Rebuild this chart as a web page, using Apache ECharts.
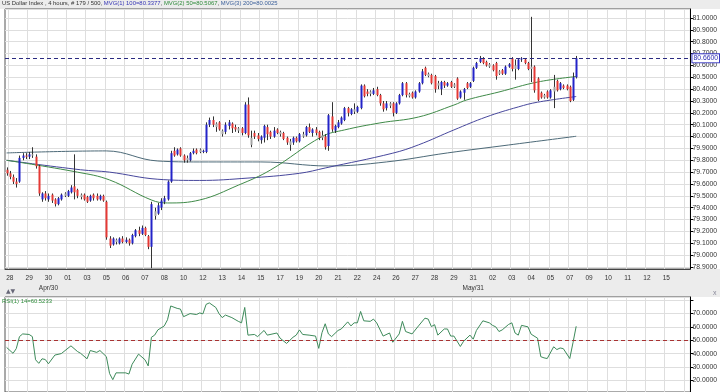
<!DOCTYPE html>
<html><head><meta charset="utf-8">
<script src="https://cdn.jsdelivr.net/npm/echarts@6/dist/echarts.min.js"></script>
<style>html,body{margin:0;padding:0;background:#fff}#c{width:720px;height:392px}</style>
</head><body><div id="c"></div>
<script>
// ---- DATA ----
const tickLabels = ['28','29','30\nApr/30','01','03','05','06','07','08','10','12','13','14','15','17','19','20','21','22','24','26','27','28','29','31\nMay/31','02','03','04','05','07','09','10','11','12','15'];
const totalSlots = 213;
// candles: [open, close, low, high]
const candles = [
[79.72,79.69,79.67,79.74],[79.69,79.66,79.64,79.71],[79.66,79.62,79.60,79.68],[79.62,79.60,79.57,79.65],
[79.62,79.82,79.61,79.84],[79.82,79.84,79.80,79.86],[79.84,79.83,79.81,79.86],[79.83,79.85,79.81,79.87],
[79.85,79.84,79.82,79.91],[79.83,79.75,79.73,79.85],[79.75,79.52,79.50,79.76],[79.47,79.52,79.45,79.53],
[79.52,79.48,79.46,79.54],[79.47,79.50,79.45,79.52],[79.51,79.46,79.44,79.52],[79.47,79.43,79.41,79.48],
[79.43,79.48,79.42,79.49],[79.47,79.51,79.46,79.52],[79.52,79.50,79.49,79.53],[79.50,79.54,79.49,79.55],
[79.53,79.57,79.52,79.59],[79.58,79.53,79.47,79.85],[79.55,79.50,79.48,79.56],[79.51,79.49,79.47,79.52],
[79.51,79.47,79.46,79.52],[79.49,79.45,79.44,79.50],[79.46,79.50,79.45,79.51],[79.51,79.48,79.46,79.52],
[79.50,79.47,79.46,79.52],[79.47,79.50,79.46,79.51],[79.50,79.46,79.45,79.51],[79.45,79.15,79.13,79.46],
[79.14,79.08,79.06,79.16],[79.09,79.14,79.08,79.15],[79.13,79.11,79.09,79.14],[79.10,79.14,79.09,79.15],
[79.14,79.11,79.10,79.16],[79.11,79.13,79.10,79.15],[79.13,79.10,79.08,79.14],[79.10,79.17,79.09,79.18],
[79.16,79.21,79.15,79.22],[79.21,79.18,79.16,79.24],[79.18,79.23,79.17,79.25],[79.23,79.17,79.16,79.24],
[79.16,79.07,79.05,79.17],[79.07,79.43,78.89,79.45],[79.37,79.33,79.30,79.40],[79.35,79.42,79.34,79.44],
[79.40,79.46,79.38,79.48],[79.45,79.48,79.43,79.50],[79.47,79.62,79.46,79.63],[79.62,79.86,79.61,79.88],
[79.88,79.84,79.83,79.91],[79.85,79.89,79.84,79.90],[79.90,79.84,79.83,79.91],[79.84,79.80,79.78,79.85],
[79.82,79.80,79.78,79.84],[79.80,79.86,79.79,79.87],[79.86,79.88,79.85,79.90],[79.89,79.86,79.85,79.90],
[79.89,79.87,79.86,79.90],[79.87,79.88,79.86,79.89],[79.87,80.10,79.86,80.12],[80.10,80.14,80.08,80.16],
[80.14,80.10,80.08,80.17],[80.11,80.08,80.04,80.12],[80.12,80.06,80.05,80.13],[80.05,80.02,80.00,80.06],
[80.04,80.10,80.02,80.12],[80.09,80.12,80.06,80.14],[80.11,80.07,80.03,80.12],[80.08,80.06,80.04,80.10],
[80.07,80.05,80.03,80.08],[80.07,80.03,80.01,80.08],[80.03,80.27,80.02,80.29],[80.27,80.01,79.99,80.33],
[79.99,79.93,79.91,80.05],[80.03,80.00,79.98,80.05],[80.01,79.98,79.96,80.03],[79.97,80.00,79.94,80.01],
[79.99,80.09,79.95,80.10],[80.08,80.02,79.97,80.10],[80.04,80.00,79.98,80.05],[80.00,80.05,79.99,80.08],
[80.06,80.03,80.02,80.07],[80.04,80.02,80.00,80.05],[80.03,79.98,79.97,80.04],[79.99,79.95,79.93,80.00],
[79.96,79.93,79.88,79.98],[79.95,79.99,79.93,80.00],[79.99,79.96,79.95,80.00],[79.96,80.02,79.95,80.03],
[80.02,80.00,79.99,80.04],[80.01,80.08,80.00,80.09],[80.08,80.04,80.03,80.11],[80.03,80.06,80.00,80.07],
[80.06,80.03,80.01,80.08],[80.04,79.99,79.97,80.05],[80.01,79.99,79.97,80.05],[80.00,79.91,79.89,80.02],
[79.92,80.18,79.88,80.19],[80.17,80.06,80.04,80.29],[80.05,80.09,80.03,80.10],[80.08,80.12,80.07,80.14],
[80.11,80.16,80.10,80.17],[80.14,80.24,80.13,80.25],[80.24,80.20,80.17,80.25],[80.19,80.23,80.18,80.24],
[80.23,80.21,80.19,80.28],[80.21,80.25,80.20,80.26],[80.24,80.43,80.23,80.44],[80.43,80.34,80.33,80.44],
[80.38,80.36,80.34,80.40],[80.38,80.36,80.34,80.39],[80.36,80.39,80.35,80.41],[80.40,80.35,80.34,80.42],
[80.35,80.28,80.26,80.36],[80.28,80.23,80.21,80.30],[80.24,80.28,80.22,80.30],[80.28,80.26,80.24,80.29],
[80.28,80.20,80.17,80.29],[80.20,80.28,80.19,80.29],[80.28,80.35,80.27,80.36],[80.35,80.45,80.34,80.46],
[80.45,80.35,80.33,80.46],[80.36,80.34,80.33,80.37],[80.37,80.33,80.32,80.38],[80.33,80.38,80.32,80.39],
[80.38,80.45,80.37,80.46],[80.45,80.55,80.44,80.57],[80.58,80.52,80.51,80.59],[80.53,80.51,80.50,80.54],
[80.52,80.45,80.44,80.53],[80.51,80.40,80.37,80.52],[80.45,80.43,80.40,80.47],[80.40,80.46,80.35,80.47],
[80.46,80.43,80.41,80.47],[80.43,80.45,80.42,80.46],[80.46,80.42,80.41,80.47],[80.44,80.42,80.41,80.45],
[80.49,80.32,80.31,80.50],[80.33,80.38,80.32,80.39],[80.37,80.40,80.31,80.41],[80.45,80.41,80.40,80.46],
[80.42,80.45,80.41,80.46],[80.47,80.58,80.46,80.59],[80.58,80.62,80.57,80.63],[80.63,80.66,80.62,80.68],
[80.66,80.62,80.61,80.67],[80.63,80.60,80.59,80.64],[80.61,80.59,80.58,80.62],[80.60,80.56,80.55,80.61],
[80.62,80.51,80.48,80.63],[80.55,80.53,80.52,80.56],[80.56,80.53,80.52,80.57],[80.53,80.59,80.52,80.60],
[80.59,80.61,80.58,80.62],[80.66,80.57,80.55,80.67],[80.60,80.57,80.48,80.65],[80.57,80.65,80.56,80.66],
[80.65,80.66,80.63,80.67],[80.65,80.62,80.61,80.66],[80.62,80.57,80.56,80.63],[80.59,80.57,80.46,81.01],
[80.59,80.39,80.37,80.60],[80.49,80.31,80.30,80.50],[80.37,80.33,80.32,80.38],[80.35,80.33,80.32,80.36],
[80.38,80.33,80.32,80.39],[80.33,80.39,80.32,80.40],[80.42,80.38,80.24,80.52],[80.47,80.39,80.38,80.48],
[80.40,80.45,80.39,80.46],[80.43,80.41,80.40,80.44],[80.43,80.40,80.39,80.44],[80.42,80.30,80.29,80.43],
[80.31,80.50,80.30,80.54],[80.50,80.66,80.49,80.68]
];
// bars drawn as neutral (grey) bodies
const neutralBars = [8,18,23,34,46,56,60,65,67,72,76,85,88,92,98,108,113,119,125,131,134,139,150,153,158,163,167,170];
// moving averages: [barIndex, value]
const ma100 = [[0,79.80],[23,79.72],[32,79.70],[47,79.64],[60,79.63],[75,79.65],[91,79.69],[99,79.735],[120,79.86],[128,79.93],[139,80.056],[149,80.165],[159,80.25],[165,80.29],[177,80.3377]];
const ma50  = [[0,79.80],[22,79.70],[32,79.634],[45,79.465],[50,79.44],[60,79.465],[72,79.59],[82,79.718],[98,80.0],[105,80.056],[116,80.115],[128,80.165],[139,80.266],[143,80.309],[153,80.376],[165,80.46],[177,80.5067]];
const ma200 = [[0,79.862],[31,79.879],[47,79.794],[60,79.786],[79,79.786],[100,79.752],[118,79.786],[137,79.862],[156,79.929],[177,80.0025]];
const rsi = [[0,44.7],[2,40.3],[3,43.8],[4,52.8],[5,54.8],[7,54.4],[8,52.8],[9,35.5],[10,32.8],[11,36.2],[12,35.7],[13,32.5],[15,39.0],[17,40.1],[20,45.9],[22,41.7],[23,40.3],[25,36.2],[26,42.4],[28,41.0],[29,42.4],[31,37.8],[32,25.2],[33,20.6],[34,25.7],[37,25.7],[38,24.8],[39,32.1],[41,39.7],[43,35.5],[44,30.9],[45,52.3],[46,53.9],[47,57.8],[49,60.8],[50,65.4],[51,75.7],[53,73.9],[54,73.4],[55,67.7],[57,70.0],[59,69.3],[60,70.5],[61,69.8],[62,76.9],[63,78.0],[65,74.6],[66,70.0],[67,67.0],[68,68.9],[70,67.0],[72,64.2],[73,63.1],[74,74.6],[75,53.9],[77,54.4],[78,52.8],[80,57.4],[81,53.9],[84,55.5],[85,51.6],[87,47.7],[89,52.3],[90,53.9],[91,57.8],[92,54.4],[94,53.9],[96,53.2],[97,44.0],[98,55.7],[99,62.4],[100,54.8],[101,52.8],[103,57.4],[104,58.5],[106,63.8],[107,60.8],[108,63.1],[109,63.1],[110,71.6],[111,64.6],[113,64.2],[114,65.9],[115,63.1],[117,53.2],[119,55.5],[120,48.6],[122,54.8],[123,64.2],[124,56.6],[126,54.8],[128,60.8],[130,66.6],[131,65.9],[132,60.3],[133,61.7],[134,53.9],[136,58.5],[137,58.5],[138,53.2],[139,53.2],[141,45.4],[142,49.3],[144,53.9],[145,50.9],[146,57.4],[148,64.6],[150,63.1],[151,61.2],[152,60.1],[153,56.6],[154,57.8],[156,61.9],[157,63.1],[158,55.5],[159,53.9],[160,61.2],[162,60.1],[163,54.6],[165,51.6],[166,37.8],[167,36.9],[168,36.4],[170,45.2],[171,43.1],[172,44.3],[173,43.8],[175,36.4],[176,48.2],[177,60.5233]];

// ---- BUILD ----
const categories = [];
for (let i = 0; i < totalSlots; i++) {
  const k = (i - 1) / 6;
  categories.push((i - 1) % 6 === 0 && tickLabels[k] !== undefined ? tickLabels[k] : '');
}
const neutralSet = new Set(neutralBars);
const candleData = candles.map((c, i) => [i, c[0], c[1], c[2], c[3], neutralSet.has(i) ? 1 : 0]);
const lastClose = candles[candles.length - 1][1];
const last = a => a[a.length - 1][1];

const FONT = 'Liberation Sans, Arial, sans-serif';
const BLUE = '#2323c8', RED = '#e53935', GREY = '#a3a3a3';
const fs = 6.5, fsT = 5.9;

function renderCandle(params, api) {
  const i = api.value(0), o = api.value(1), c = api.value(2), l = api.value(3), h = api.value(4), t = api.value(5);
  const pO = api.coord([i, o]), pC = api.coord([i, c]), pL = api.coord([i, l]), pH = api.coord([i, h]);
  const x = Math.round(pO[0]) + 0.5;
  const top = Math.min(pO[1], pC[1]), bot = Math.max(pO[1], pC[1]);
  const fill = t === 1 ? GREY : (c >= o ? BLUE : RED);
  return { type: 'group', children: [
    { type: 'line', shape: { x1: x, y1: pH[1], x2: x, y2: pL[1] }, style: { stroke: '#333', lineWidth: 1 } },
    { type: 'rect', shape: { x: x - 1, y: top, width: 2, height: Math.max(1, bot - top) }, style: { fill: fill } }
  ]};
}

const gridLineX = { show: true, interval: (idx) => idx % 6 === 1, lineStyle: { color: '#dedede', width: 1 } };
const chart = echarts.init(document.getElementById('c'), null, { renderer: 'canvas' });
chart.setOption({
  animation: false,
  backgroundColor: '#ffffff',
  textStyle: { fontFamily: FONT },
  title: {
    left: 2, top: 0, padding: 0,
    text: '{a|US Dollar Index , 4 hours, # 179 / 500,} {b|MVG(1) 100=' + last(ma100).toFixed(4) + '}{a|,} {c|MVG(2) 50=' + last(ma50).toFixed(4) + '}{a|,} {d|MVG(3) 200=' + last(ma200).toFixed(4) + '}',
    textStyle: { fontSize: fsT, fontWeight: 'normal', fontFamily: FONT, rich: {
      a: { color: '#333', fontSize: fsT, fontFamily: FONT },
      b: { color: '#3535b5', fontSize: fsT, fontFamily: FONT },
      c: { color: '#2e8b3a', fontSize: fsT, fontFamily: FONT },
      d: { color: '#3a5f9a', fontSize: fsT, fontFamily: FONT }
    }}
  },
  graphic: [
    { type: 'rect', z: -10, shape: { x: 0, y: 0, width: 720, height: 9 }, style: { fill: '#ececec' } },
    { type: 'rect', z: -10, shape: { x: 0, y: 269, width: 720, height: 28 }, style: { fill: '#ececec' } },
    { type: 'text', z: 50, left: 6, top: 288, style: { text: '▲▼', fontSize: 6, fill: '#667', fontFamily: 'DejaVu Sans' } },
    { type: 'text', z: 50, left: 713, top: 290, style: { text: 'x', fontSize: 7, fill: '#889', fontFamily: FONT } },
    { type: 'text', z: 50, left: 2, top: 298, style: { text: 'RSI(1) 14=' + last(rsi).toFixed(4), fontSize: fsT, fill: '#2e8b3a', fontFamily: FONT } }
  ],
  grid: [
    { left: 5, right: 25, top: 9, height: 260, show: true, backgroundColor: '#fff', borderColor: '#555', borderWidth: 1 },
    { left: 5, right: 25, top: 297, height: 103, show: true, backgroundColor: '#fff', borderColor: '#555', borderWidth: 1 }
  ],
  xAxis: [
    { type: 'category', gridIndex: 0, data: categories, boundaryGap: true,
      axisLine: { show: true, lineStyle: { color: '#444' } }, axisTick: { show: false },
      axisLabel: { interval: 0, fontSize: fs, color: '#333', margin: 4, lineHeight: 10, fontFamily: FONT },
      splitLine: gridLineX },
    { type: 'category', gridIndex: 1, data: categories, boundaryGap: true,
      axisLine: { show: false }, axisTick: { show: false }, axisLabel: { show: false },
      splitLine: gridLineX }
  ],
  yAxis: [
    { type: 'value', gridIndex: 0, position: 'right', min: 78.883, max: 81.076, splitNumber: 22, scale: true,
      axisLine: { show: true, lineStyle: { color: '#000' } },
      axisTick: { show: true, length: 3, lineStyle: { color: '#000' } },
      axisLabel: { fontSize: 6.8, color: '#333', margin: 2, fontFamily: FONT, showMinLabel: false, showMaxLabel: false,
        formatter: v => v.toFixed(4) },
      splitLine: { show: true, lineStyle: { color: '#dedede' } } },
    { type: 'value', gridIndex: 1, position: 'right', min: 11.38, max: 82.41, splitNumber: 7, scale: true,
      axisLine: { show: true, lineStyle: { color: '#000' } },
      axisTick: { show: true, length: 3, lineStyle: { color: '#000' } },
      axisLabel: { fontSize: 6.8, color: '#333', margin: 2, fontFamily: FONT, showMinLabel: false, showMaxLabel: false,
        formatter: v => (v > 75 ? '' : v.toFixed(4)) },
      splitLine: { show: true, lineStyle: { color: '#dedede' } } }
  ],
  series: [
    { type: 'line', xAxisIndex: 0, yAxisIndex: 0, data: ma200, smooth: 0.4, symbol: 'none', lineStyle: { color: '#4d6a78', width: 1 }, z: 3 },
    { type: 'line', xAxisIndex: 0, yAxisIndex: 0, data: ma100, smooth: 0.4, symbol: 'none', lineStyle: { color: '#47479c', width: 1 }, z: 3 },
    { type: 'line', xAxisIndex: 0, yAxisIndex: 0, data: ma50, smooth: 0.4, symbol: 'none', lineStyle: { color: '#3f8a48', width: 1 }, z: 3,
      markLine: { silent: true, symbol: 'none', animation: false,
        lineStyle: { type: [4, 3], color: '#2a2a80', width: 1 },
        label: { show: true, position: 'end', distance: 2, formatter: p => p.value.toFixed(4), fontSize: 6.8, color: '#2a2ab0',
          backgroundColor: '#fff', borderColor: '#3a3ac0', borderWidth: 1, padding: [1, 1, 0, 1], fontFamily: FONT },
        data: [{ yAxis: lastClose }] } },
    { type: 'custom', xAxisIndex: 0, yAxisIndex: 0, renderItem: renderCandle, data: candleData,
      encode: { x: 0, y: [1, 2, 3, 4] }, z: 4 },
    { type: 'line', xAxisIndex: 1, yAxisIndex: 1, data: rsi, symbol: 'none', lineStyle: { color: '#3d8a5a', width: 1 }, z: 3,
      markLine: { silent: true, symbol: 'none', animation: false,
        data: [
          { yAxis: 50, lineStyle: { type: [4, 3], color: '#a83232', width: 1 }, label: { show: false } },
          { yAxis: last(rsi), lineStyle: { opacity: 0 },
            label: { show: true, position: 'end', distance: 2, formatter: p => p.value.toFixed(4), fontSize: 6.8, color: '#2a2ab0',
              backgroundColor: '#fff', borderColor: '#c04040', borderWidth: 1, padding: [1, 1, 0, 1], fontFamily: FONT } }
        ] } }
  ]
});
</script></body></html>
